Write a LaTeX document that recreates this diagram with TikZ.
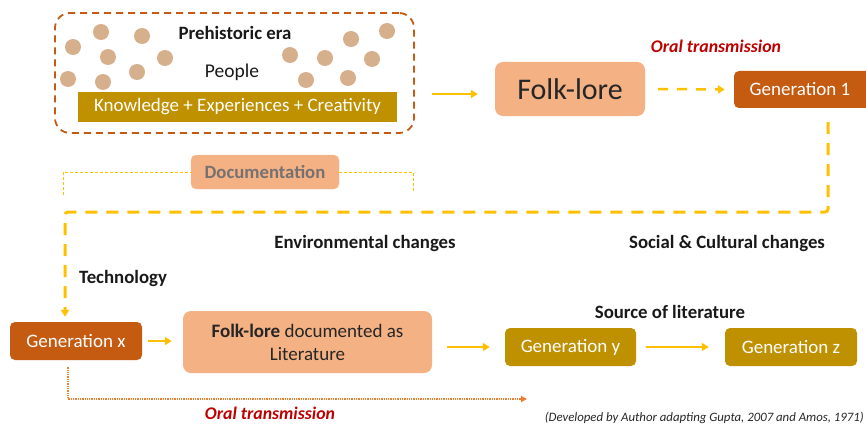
\documentclass[tikz,border=0pt]{standalone}
\usepackage{fontspec}
\setmainfont{Carlito}
\usetikzlibrary{arrows.meta,calc}
\definecolor{dkorange}{HTML}{C55A11}
\definecolor{peach}{HTML}{F4B183}
\definecolor{gold}{HTML}{BF9000}
\definecolor{ylw}{HTML}{FFC000}
\definecolor{tan}{HTML}{D6AF8C}
\definecolor{rd}{HTML}{C00000}
\definecolor{orng}{HTML}{ED7D31}
\definecolor{gtext}{HTML}{767171}
\tikzset{
  box/.style={rounded corners=5pt, inner sep=0pt, align=center},
  darkbox/.style={box, fill=dkorange, text=white, font=\fontsize{19}{22}\selectfont},
  goldbox/.style={box, fill=gold, text=white, font=\fontsize{19}{22}\selectfont},
  peachbox/.style={box, fill=peach, text=black!85},
  dot/.style={circle, fill=tan, minimum size=16pt, inner sep=0pt},
  lbl/.style={font=\bfseries\fontsize{18.8}{22}\selectfont, text=black!90},
  redlbl/.style={font=\bfseries\itshape\fontsize{17.8}{21}\selectfont, text=rd},
  yarrow/.style={draw=ylw, line width=2.5pt, -{Triangle[length=7pt,width=8pt]}},
}
\begin{document}
\begin{tikzpicture}[x=1pt,y=-1pt]
\useasboundingbox (0,0) rectangle (866,425);
% dashed era box
\node[draw=dkorange, dash pattern=on 7pt off 5pt, line width=1.8pt, rounded corners=15pt,
  minimum width=359pt, minimum height=120pt, inner sep=0pt] (era) at (234.5,73) {};
% circles
\foreach \cx/\cy [count=\i] in {73/47,101/32,108/57,68/79,103/82,142/36,165/58,137/72,
  290/55,306/80,325/58,351/39,387/31,372/59,348/78}
  \node[dot] (c\i) at (\cx,\cy) {};
\node[lbl] (pre) at (235,33) {Prehistoric era};
\node[font=\fontsize{19.5}{22}\selectfont, text=black!90] (ppl) at (232,72) {People};
\node[box, rounded corners=0pt, fill=gold, text=white, minimum width=319pt, minimum height=30pt,
  font=\fontsize{19}{22}\selectfont] (know) at (237.5,107) {Knowledge + Experiences + Creativity};
% top row
\node[peachbox, minimum width=150pt, minimum height=54pt, rounded corners=8pt,
  font=\fontsize{30}{34}\selectfont] (folk) at (570,89) {Folk-lore};
\node[darkbox, minimum width=140pt, minimum height=37pt] (gen1) at (804,89.5) {\hspace*{-8pt}Generation 1};
\node[redlbl] (oral1) at (716,46) {Oral transmission};
% documentation
\node[box, fill=peach, draw=peach!70, text=gtext, minimum width=148pt, minimum height=34pt,
  font=\bfseries\fontsize{18.7}{22}\selectfont] (doc) at (265,172) {Documentation};
% labels
\node[lbl] (env) at (365,243) {Environmental changes};
\node[lbl] (soc) at (727,243) {Social \& Cultural changes};
\node[lbl] (tech) at (123,278) {Technology};
\node[lbl] (src) at (670,312) {Source of literature};
% bottom row
\node[darkbox, minimum width=132pt, minimum height=38pt] (genx) at (76,341) {Generation x};
\node[peachbox, minimum width=249pt, minimum height=62pt, rounded corners=8pt,
  font=\fontsize{19}{23}\selectfont] (fld) at (307.5,342) {\textbf{Folk-lore} documented as\\Literature};
\node[goldbox, minimum width=131pt, minimum height=38pt] (geny) at (570.5,347) {Generation y};
\node[goldbox, minimum width=132pt, minimum height=38pt] (genz) at (791,347) {Generation z};
\node[redlbl] (oral2) at (270,413) {Oral transmission};
\node[font=\itshape\fontsize{12.8}{15}\selectfont, text=black!85, anchor=east, inner sep=1pt] (cap) at (865,418)
  {(Developed by Author adapting Gupta, 2007 and Amos, 1971)};
% coordinates
\coordinate (c1) at (828,212);
\coordinate (c2) at (65,212);
\coordinate (d1) at (63,195);
\coordinate (d2) at (413,193);
\coordinate (o1) at (68,399);
\coordinate (o2) at (527,399);
\coordinate (ea) at (414,94);
% connectors
\draw[yarrow, shorten <=18pt, shorten >=17pt] (ea) -- (ea -| folk.west);
\draw[yarrow, dash pattern=on 10pt off 9pt, shorten <=13pt, shorten >=9pt] (folk.east) -- (gen1.west);
\draw[draw=ylw, line width=3pt, dash pattern=on 12pt off 9pt, rounded corners=3pt,
  -{Triangle[length=7pt,width=8pt]}, shorten <=14pt, shorten >=5pt]
  (c1 |- gen1.south) -- (c1) -- (c2) -- (c2 |- genx.north);
\draw[draw=ylw, line width=1pt, dash pattern=on 3pt off 2pt] (d1) |- (doc.west);
\draw[draw=ylw, line width=1pt, dash pattern=on 3pt off 2pt] (doc.east) -| (d2);
\draw[yarrow, shorten <=6pt, shorten >=11pt] (genx.east) -- (genx.east -| fld.west);
\draw[yarrow, shorten <=15pt, shorten >=15pt] (fld.east |- geny.west) -- (geny.west);
\draw[yarrow, shorten <=10pt, shorten >=16pt] (geny.east) -- (genz.west);
\draw[draw=orng, line width=1.3pt, dash pattern=on 1.3pt off 1pt, -{Triangle[length=6pt,width=6pt]},
  shorten <=7pt] (o1 |- genx.south) -- (o1) -- (o2);
\end{tikzpicture}
\end{document}
